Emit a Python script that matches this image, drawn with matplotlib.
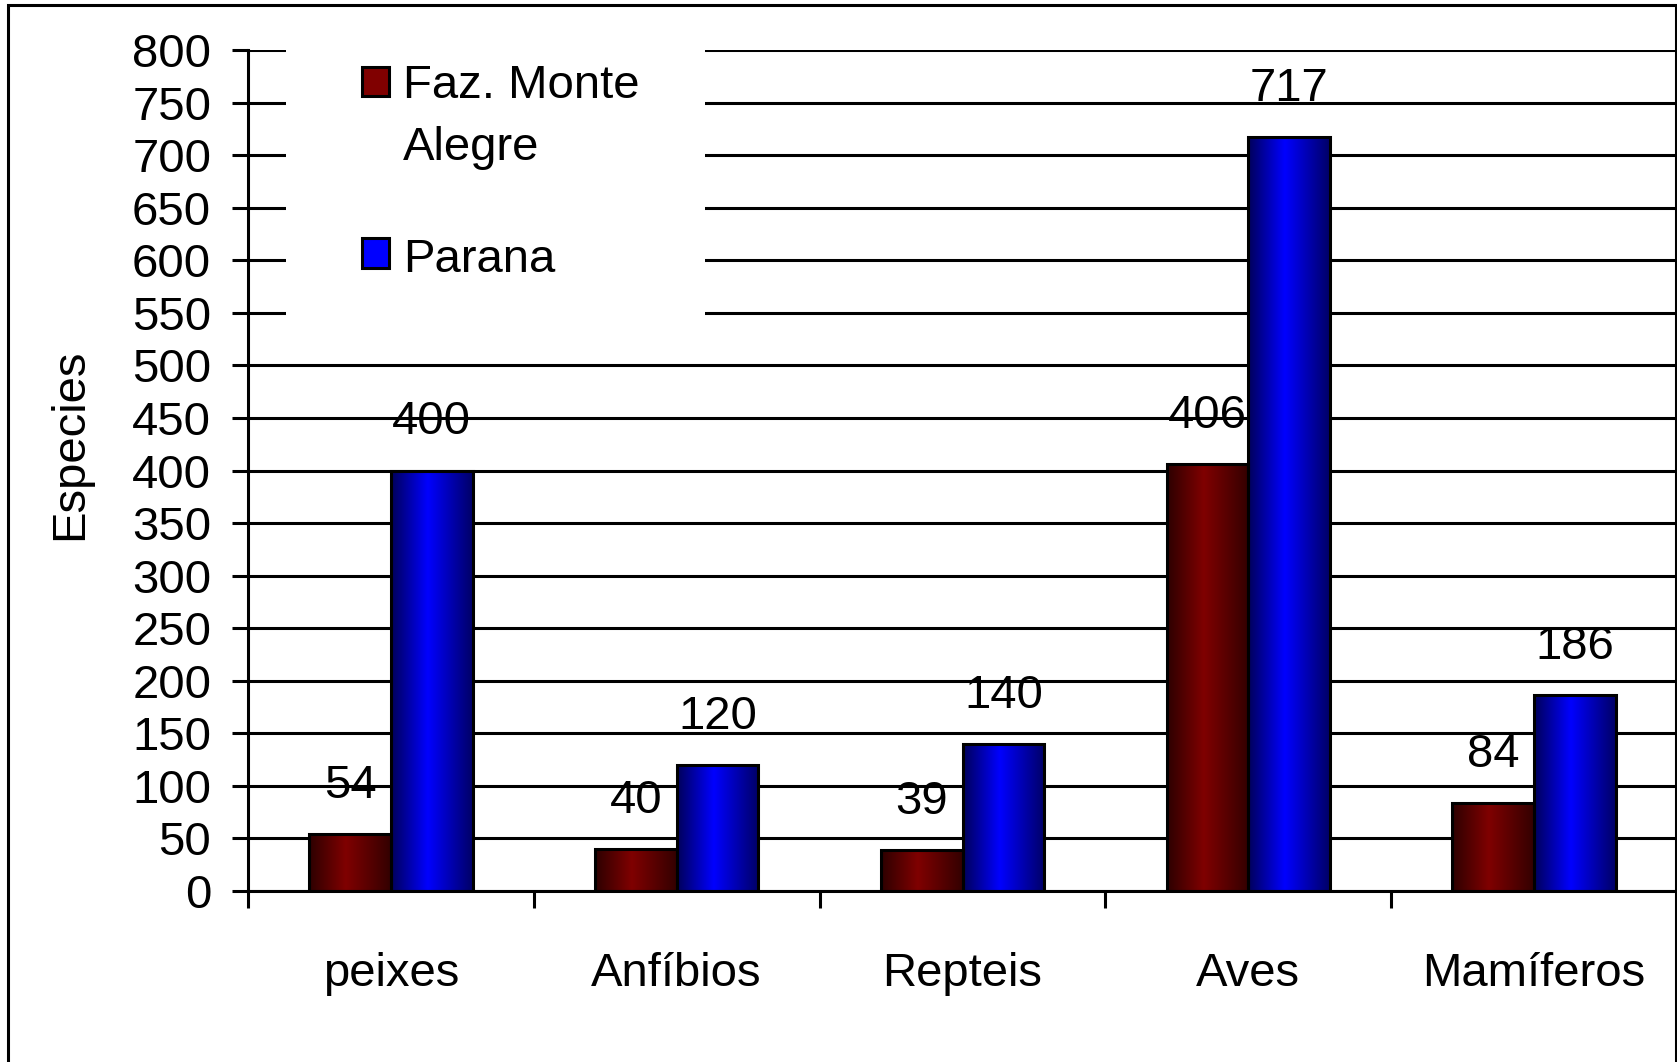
import numpy as np
import matplotlib
matplotlib.use("Agg")
import matplotlib.pyplot as plt
from matplotlib.patches import Rectangle

plt.rcParams['font.family'] = ['Liberation Sans', 'DejaVu Sans']

# dados
categorias = ["peixes", "Anfíbios", "Repteis", "Aves", "Mamíferos"]
monte_alegre = [54, 40, 39, 406, 84]
parana = [400, 120, 140, 717, 186]
serie_nomes = ["Faz. Monte\nAlegre", "Parana"]
y_ticks = list(range(0, 801, 50))

W, H = 1677, 1062
FS = 34
LW = 2.2

vermelho = (0.5, 0.0, 0.0)
azul = (0.0, 0.0, 1.0)


def px(x, y):
    # pixel (a partir do canto superior esquerdo) -> fração da figura
    return x / W, 1 - y / H


def gradiente(cor):
    t = np.linspace(0, 1, 200)
    f = np.interp(t, [0, 0.45, 1], [0.35, 1.0, 0.4])
    img = np.array([[c * v for c in cor] for v in f])
    return img[np.newaxis, :, :]


fig = plt.figure(figsize=(W / 100, H / 100), dpi=100)
esq, topo = px(248, 50)
_, base = px(0, 891)
ax = fig.add_axes([esq, base, 1 - esq, topo - base])

x = np.arange(len(categorias))
larg = 1 / 3.5

for vals, cor, desloc in [(monte_alegre, vermelho, -larg / 2), (parana, azul, larg / 2)]:
    barras = ax.bar(x + desloc, vals, larg, color=cor, zorder=3)
    for r in barras:
        x0, w, h = r.get_x(), r.get_width(), r.get_height()
        ax.imshow(gradiente(cor), extent=[x0, x0 + w, 0, h], aspect='auto',
                  interpolation='bilinear', zorder=3.5)
    ax.bar(x + desloc, vals, larg, facecolor='none', edgecolor='black', linewidth=LW, zorder=4)
    for xi, v in zip(x + desloc, vals):
        ax.annotate(str(v), (xi, v), xytext=(0, 26), textcoords='offset points',
                    ha='center', va='baseline', fontsize=FS, zorder=6)

ax.set_xlim(-0.5, len(categorias) - 0.5)
ax.set_ylim(0, 800)
ax.set_yticks(y_ticks)
ax.set_yticklabels([str(v) for v in y_ticks], fontsize=FS)
ax.set_xticks(x)
ax.set_xticklabels(categorias, fontsize=FS)
ax.set_xticks(np.arange(-0.5, len(categorias)), minor=True)
ax.tick_params(axis='x', which='major', length=0, pad=44)
ax.tick_params(axis='x', which='minor', length=12, width=LW, direction='out')
ax.tick_params(axis='y', length=11.5, width=LW, direction='out', pad=15)

ax.set_axisbelow(True)
ax.yaxis.grid(True, color='black', linewidth=LW)
for s in ['top', 'right']:
    ax.spines[s].set_visible(False)
for s in ['left', 'bottom']:
    ax.spines[s].set_linewidth(LW)
    ax.spines[s].set_zorder(5)

fig.text(*px(70, 444), "Especies", rotation=90, ha='center', va='center', fontsize=FS)

# legenda manual
lx0, ly0 = px(286, 335)
lx1, ly1 = px(705, 20)
ax.add_patch(Rectangle((lx0, ly0), lx1 - lx0, ly1 - ly0, transform=fig.transFigure,
                       facecolor='white', edgecolor='none', zorder=1, clip_on=False))
for cor, (yt, yb) in zip([vermelho, azul], [(67, 96), (238, 268)]):
    a, b = px(362, yb)
    c, d = px(389, yt)
    ax.add_patch(Rectangle((a, b), c - a, d - b, transform=fig.transFigure,
                           facecolor=cor, edgecolor='black', linewidth=LW, zorder=2, clip_on=False))
linhas = serie_nomes[0].split("\n")
fig.text(*px(403, 98), linhas[0], fontsize=FS, va='baseline', ha='left')
fig.text(*px(403, 160), linhas[1], fontsize=FS, va='baseline', ha='left')
fig.text(*px(403, 272), serie_nomes[1], fontsize=FS, va='baseline', ha='left')

# moldura externa
a, b = px(8, 1100)
c, d = px(1676, 5)
fig.add_artist(Rectangle((a, b), c - a, d - b, transform=fig.transFigure,
                         fill=False, edgecolor='black', linewidth=LW))

fig.savefig("out.png", dpi=100)
